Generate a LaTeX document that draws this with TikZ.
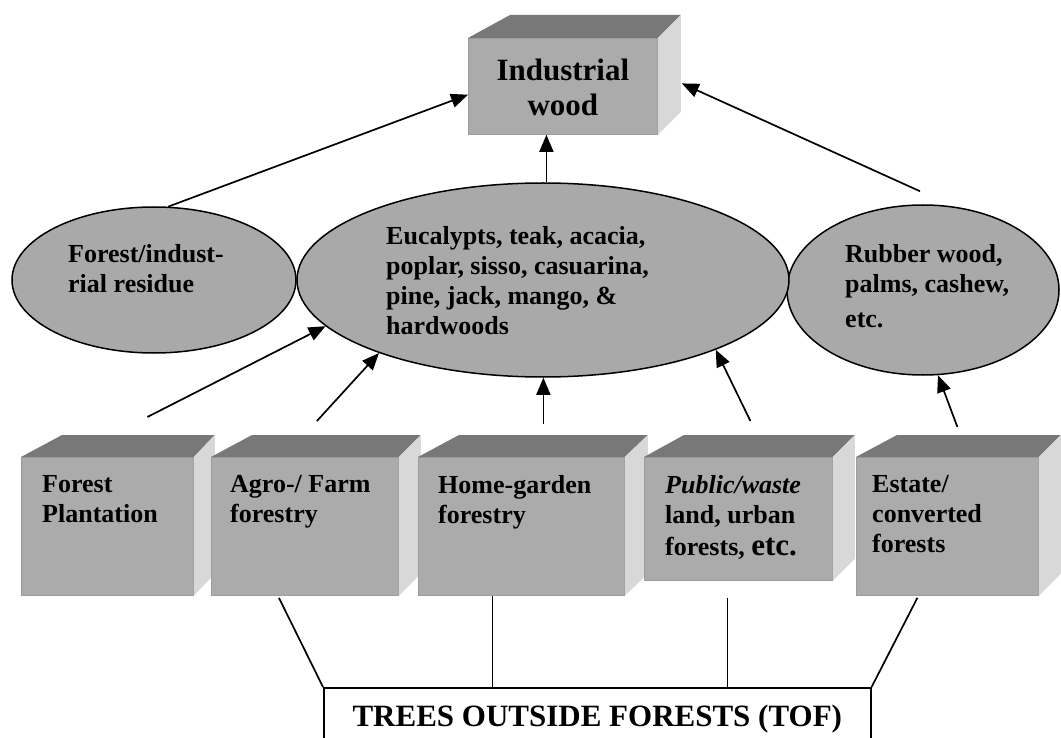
\documentclass[tikz,border=0pt]{standalone}
\usepackage{fontspec}
\setmainfont{Liberation Serif}
\usetikzlibrary{shapes.geometric,arrows.meta,calc}

\definecolor{frontgray}{HTML}{ABABAB}
\definecolor{topgray}{HTML}{787878}
\definecolor{sidegray}{HTML}{D8D8D8}
\definecolor{edgegray}{HTML}{9C9C9C}
\definecolor{ovalgray}{HTML}{A9A9A9}

\tikzset{
  frontface/.style={rectangle, fill=frontgray, draw=edgegray, line width=0.8pt, inner sep=0pt},
  ovalnode/.style={ellipse, fill=ovalgray, draw=black, line width=1.5pt, inner sep=0pt},
  lbl/.style={align=left, inner sep=0pt, anchor=north west, font=\bfseries\fontsize{26}{30}\selectfont},
  tofbox/.style={rectangle, draw=black, fill=white, line width=1.6pt, inner sep=0pt,
                 font=\bfseries\fontsize{31}{36}\selectfont},
  arr/.style={line width=1.7pt, -{Triangle[length=17pt,width=14pt]}},
  conn/.style={line width=1.7pt},
}

% 3-D box: front face node plus a top and a right face
% #1 name, #2 top-left corner of the front face, #3 width, #4 height,
% #5 left depth, #6 right depth, #7 rise of the back edge
\newcommand{\mkcube}[7]{%
  \node[frontface, minimum width=#3pt, minimum height=#4pt, anchor=north west] (#1) at #2 {};
  \fill[topgray] (#1.north west) -- ++(#5,-#7) -- ($(#1.north east)+(#6,-#7)$) -- (#1.north east) -- cycle;
  \fill[sidegray] (#1.north east) -- ++(#6,-#7) -- ($(#1.south east)+(#6,-#7)$) -- (#1.south east) -- cycle;
}

\begin{document}
\begin{tikzpicture}[x=1pt,y=-1pt]
\useasboundingbox (0,0) rectangle (1061,738);
\fill[white] (0,0) rectangle (1061,738);

% product at the top
\mkcube{wood}{(468,38)}{189}{96}{42}{23}{23}
\node[align=center, inner sep=0pt, font=\bfseries\fontsize{31}{35}\selectfont] (wood-t)
  at ($(wood.center)+(0,1)$) {Industrial\\wood};

% sources of wood
\node[ovalnode, minimum width=284pt, minimum height=146pt] (resid) at (154,280) {};
\node[ovalnode, minimum width=272pt, minimum height=170pt] (rubber) at (923,290) {};
\node[ovalnode, minimum width=492pt, minimum height=194pt] (mid) at (543,280) {};

\node[lbl] (resid-t) at (68,244) {Forest/indust-\\rial residue};
\node[lbl] (mid-t) at (386,226) {Eucalypts, teak, acacia,\\poplar, sisso, casuarina,\\pine, jack, mango, \&\\hardwoods};
\node[lbl] (rubber-t) at (845,244) {Rubber wood,\\palms, cashew,\\[5pt]etc.};

% land-use categories
\mkcube{fp}{(21,457)}{172}{138}{41}{21}{22}
\mkcube{agro}{(211,457)}{187}{138}{41}{22}{22}
\mkcube{home}{(418,457)}{206}{138}{41}{23}{22}
\mkcube{pub}{(644,457)}{188}{123}{40}{22}{22}
\mkcube{estate}{(856,457)}{182}{138}{41}{22}{22}

\node[lbl] (fp-t) at (42,475) {Forest\\Plantation};
\node[lbl] (agro-t) at (230,475) {Agro-/ Farm\\forestry};
\node[lbl] (home-t) at (438,475) {Home-garden\\forestry};
\node[lbl] (pub-t) at (665,475) {\textit{Public/waste}\\land, urban\\[2pt]forests, {\fontsize{31}{30}\selectfont etc.}};
\node[lbl] (estate-t) at (872,475) {Estate/\\converted\\forests};

% umbrella category
\node[tofbox, minimum width=547pt, minimum height=62pt, anchor=north west] (tof) at (323,687)
  {TREES OUTSIDE FORESTS (TOF)};

% flows into industrial wood
\draw[arr] (resid.79) -- (wood.185);
\draw[arr] (mid.88) -- (mid.88 |- wood.south);
\coordinate (rtop) at ($(rubber.north)+(-3,-13)$);
\coordinate (wtip) at ($(wood.east)+(24,-3)$);
\draw[arr] (rtop) -- (wtip);

% flows from land uses into wood sources
\coordinate (fp-up) at ($(fp.north)+(40,-40)$);
\coordinate (agro-up) at ($(agro.north)+(12,-36)$);
\coordinate (home-up) at ($(home.north)+(22,-33)$);
\coordinate (pub-up) at ($(pub.north)+(12,-36)$);
\coordinate (estate-up) at ($(estate.north)+(10,-30)$);
\draw[arr] (fp-up) -- (mid.192);
\draw[arr] (agro-up) -- (mid.204);
\draw[arr] (home-up) -- (home-up |- mid.south);
\draw[arr] (pub-up) -- (mid.338);
\draw[arr] (estate-up) -- (rubber.280);

% links to trees outside forests
\coordinate (agro-dn) at ($(agro.south)+(-26,2)$);
\coordinate (home-dn) at ($(home.south)+(-29,0)$);
\coordinate (pub-dn) at ($(pub.south)+(-11,17)$);
\coordinate (estate-dn) at ($(estate.south)+(-30,2)$);
\draw[conn] (agro-dn) -- (tof.north west);
\draw[conn] (home-dn) -- (home-dn |- tof.north);
\draw[conn] (pub-dn) -- (pub-dn |- tof.north);
\draw[conn] (estate-dn) -- (tof.north east);
\end{tikzpicture}
\end{document}
